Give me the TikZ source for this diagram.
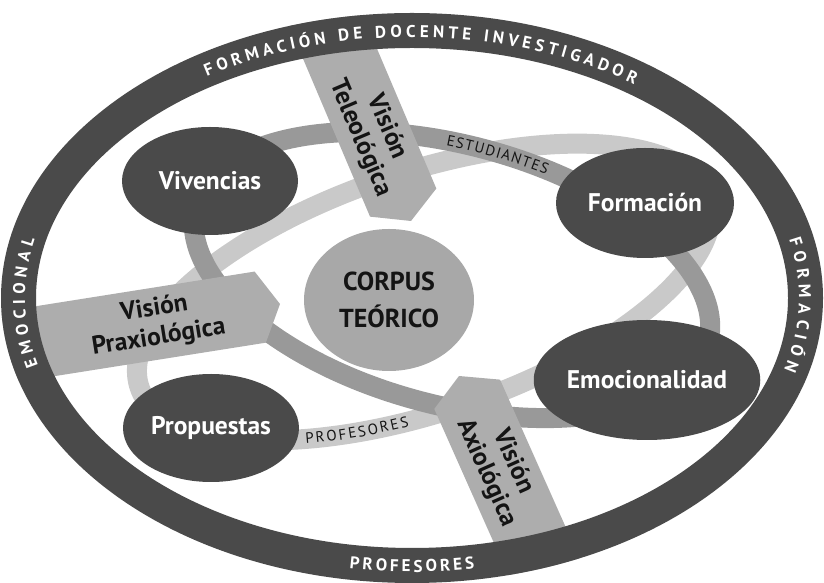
\documentclass[tikz,border=0pt]{standalone}
\usepackage{fontspec}
\setmainfont{PT Sans}
\usetikzlibrary{shapes.geometric,decorations.text}

\definecolor{ringgray}{gray}{0.29}
\definecolor{bandmid}{gray}{0.6}
\definecolor{bandlight}{gray}{0.79}
\definecolor{visiongray}{gray}{0.68}
\definecolor{coregray}{gray}{0.66}
\definecolor{inkblack}{gray}{0.08}

\tikzset{
  topic/.style={ellipse, fill=ringgray, text=white, inner sep=0pt, font=\bfseries\fontsize{25.5}{28}\selectfont},
  core/.style={ellipse, fill=coregray, text=inkblack, inner sep=0pt, align=center, font=\bfseries\fontsize{26}{37}\selectfont},
  visiontext/.style={transform shape, align=center, text=inkblack, inner sep=0pt, font=\bfseries\fontsize{25.5}{29}\selectfont},
  ringtext/.style={decorate, decoration={text along path, text align={fit to path}, text color=white,
      text={|\bfseries\fontsize{17}{17}\selectfont|#1}}},
  bandtext/.style={decorate, decoration={text along path, text align={fit to path}, text color=inkblack,
      text={|\fontsize{15}{15}\selectfont|#1}}},
}

\begin{document}
\begin{tikzpicture}[x=1pt,y=1pt]

		\useasboundingbox (0,0) rectangle (824,583);

		% the two crossing bands
		\draw[bandlight, line width=20pt, rotate around={18.5:(424,291)}] (424,291) ellipse (300 and 120);
		\draw[bandmid, line width=20pt, rotate around={-15:(452,308)}] (452,308) ellipse (265 and 130);

		\begin{scope}[shift={(452,308)}, rotate=-15]
			\path[bandtext=ESTUDIANTES] (98.7:260 and 125) arc (98.7:75.5:260 and 125);
		\end{scope}
		\begin{scope}[shift={(424,291)}, rotate=18.5]
			\path[bandtext=PROFESORES] (238.3:305 and 125) arc (238.3:259.3:305 and 125);
		\end{scope}

		\node[topic, minimum width=176pt, minimum height=108pt] (viv) at (210,402) {Vivencias};
		\node[topic, minimum width=178pt, minimum height=110pt] (form) at (645,380) {Formación};
		\node[topic, minimum width=190pt, minimum height=120pt] (emo) at (647,203) {Emocionalidad};
		\node[topic, minimum width=176pt, minimum height=108pt] (prop) at (211,155) {Propuestas};
		\node[core, minimum width=170pt, minimum height=142pt] (corpus) at (389,283) {CORPUS\\TEÓRICO};

		% the three visions, cut at the ring
		\begin{scope}
			\clip (412,285) ellipse (411 and 285);
			\begin{scope}[shift={(411,362)}, rotate=-67]
				\fill[visiongray] (0,0) -- (-20,36) -- (-320,36) -- (-320,-36) -- (-20,-36) -- cycle;
				\node[visiontext] (tele) at (-96,0) {Visión\\Teleológica};
			\end{scope}
			\begin{scope}[shift={(280,279)}, rotate=9]
				\fill[visiongray] (0,0) -- (-20,36) -- (-320,36) -- (-320,-36) -- (-20,-36) -- cycle;
				\node[visiontext] (praxis) at (-125,0) {Visión\\Praxiológica};
			\end{scope}
			\begin{scope}[shift={(459,207)}, rotate=114]
				\fill[visiongray] (0,0) -- (-20,36) -- (-320,36) -- (-320,-36) -- (-20,-36) -- cycle;
				\node[visiontext, rotate=180] (axio) at (-100,0) {Visión\\Axiológica};
			\end{scope}
		\end{scope}

		% outer ring
		\fill[ringgray, even odd rule] (412,285) ellipse (411 and 285) (412,285) ellipse (376 and 250);
		\begin{scope}[shift={(412,285)}]
			\path[ringtext={FORMACIÓN DE DOCENTE INVESTIGADOR}] (122:387 and 261) arc (122:55:387 and 261);
			\path[ringtext=EMOCIONAL] (195:387 and 261) arc (195:167:387 and 261);
			\path[ringtext=FORMACIÓN] (13:387 and 261) arc (13:-16:387 and 261);
			\path[ringtext=PROFESORES] (261:400 and 274) arc (261:279:400 and 274);
		\end{scope}

\end{tikzpicture}
\end{document}
